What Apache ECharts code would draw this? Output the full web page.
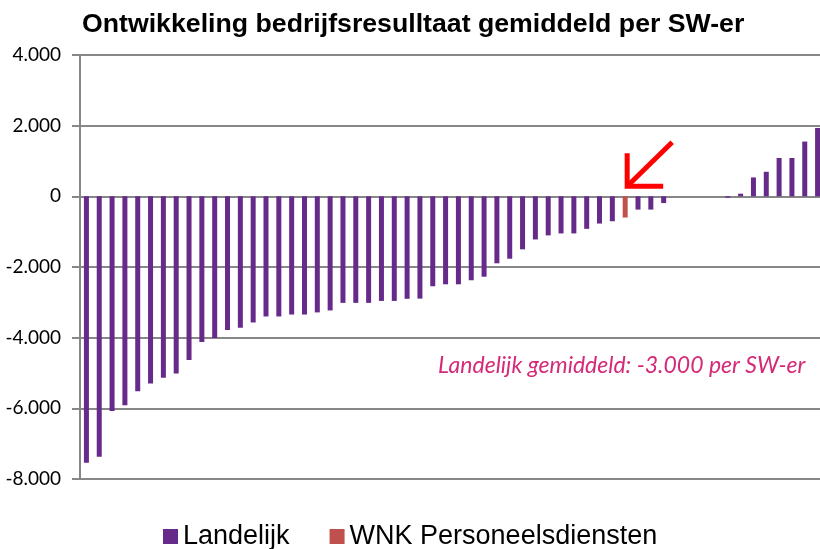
<!DOCTYPE html>
<html>
<head>
<meta charset="utf-8">
<script src="https://cdn.jsdelivr.net/npm/echarts@6/dist/echarts.min.js"></script>
<style>
html,body{margin:0;padding:0;background:#fff;overflow:hidden;}
#c{width:824px;height:549px;}
</style>
</head>
<body>
<div id="c"></div>
<script>
var titleText = 'Ontwikkeling bedrijfsresulltaat gemiddeld per SW-er';
var noteText = 'Landelijk gemiddeld: -3.000 per SW-er';
var seriesNames = ['Landelijk', 'WNK Personeelsdiensten'];
var categories = ['1','2','3','4','5','6','7','8','9','10','11','12','13','14','15','16','17','18','19','20','21','22','23','24','25','26','27','28','29','30','31','32','33','34','35','36','37','38','39','40','41','42','43','44','45','46','47','48','49','50','51','52','53','54','55','56','57','58'];
var landelijk = [-7540,-7370,-6075,-5915,-5520,-5295,-5135,-5015,-4630,-4120,-4010,-3785,-3720,-3570,
  -3400,-3400,-3345,-3345,-3285,-3230,-3015,-3015,-3015,-2960,-2960,-2900,-2895,-2545,
  -2490,-2490,-2375,-2275,-1895,-1765,-1500,-1220,-1105,-1050,-1050,-920,-770,-705,
  null,-375,-375,-190,null,null,null,null,
  -40,75,535,695,1085,1085,1550,1935];
var wnk = [null,null,null,null,null,null,null,null,null,null,null,null,null,null,
  null,null,null,null,null,null,null,null,null,null,null,null,null,null,
  null,null,null,null,null,null,null,null,null,null,null,null,null,null,
  -600,null,null,null,null,null,null,null,
  null,null,null,null,null,null,null,null];
var wnkIndex = 42;
var yTickValues = [-8000,-6000,-4000,-2000,0,2000,4000];
var yTickLabels = ['-8.000','-6.000','-4.000','-2.000','0','2.000','4.000'];

var chart = echarts.init(document.getElementById('c'), null, {renderer:'canvas'});
var gridColor = '#878787';
chart.setOption({
  animation:false,
  title:{text:titleText,left:82,top:11,padding:0,
    textStyle:{fontFamily:'Liberation Sans',fontSize:26.7,fontWeight:'bold',color:'#000'}},
  legend:{data:seriesNames,left:163,top:523,icon:'rect',itemWidth:15,itemHeight:15,itemGap:40,padding:0,
    textStyle:{fontFamily:'Liberation Sans',fontSize:27,color:'#000'}},
  grid:{left:80,right:0,top:55,bottom:70,containLabel:false},
  xAxis:{type:'category',data:categories,
    axisLine:{show:false},axisTick:{show:false},axisLabel:{show:false},splitLine:{show:false}},
  yAxis:{type:'value',min:-8000,max:4000,interval:2000,
    axisLine:{show:true,lineStyle:{color:gridColor,width:2}},
    axisTick:{show:true,length:8,inside:false,lineStyle:{color:gridColor,width:2}},
    axisLabel:{margin:19,fontFamily:'Lato',fontSize:19,color:'#000',
      formatter:function(v){var i=yTickValues.indexOf(v);return i>=0?yTickLabels[i]:'';}},
    splitLine:{show:true,lineStyle:{color:gridColor,width:2}}},
  series:[
    {name:seriesNames[0],type:'bar',data:landelijk,barWidth:5,itemStyle:{color:'#662A8A'},barGap:'-100%'},
    {name:seriesNames[1],type:'bar',data:wnk,barWidth:5,itemStyle:{color:'#C0504D'},barGap:'-100%'}
  ]
});

var p = chart.convertToPixel({seriesIndex:1},[wnkIndex,0]);
var cx = p[0]+2, cy = p[1]-10;
chart.setOption({
  graphic:[
    {type:'text',left:438,top:354,style:{text:noteText,fill:'#D42A78',
      font:'italic 23px Lato',textAlign:'left'}},
    {type:'polyline',shape:{points:[[cx+45,cy-44],[cx,cy]]},style:{stroke:'#FF0000',lineWidth:5,fill:null}},
    {type:'polyline',shape:{points:[[cx,cy-33],[cx,cy],[cx+36,cy]]},style:{stroke:'#FF0000',lineWidth:5,fill:null,lineJoin:'miter'}}
  ]
});
</script>
</body>
</html>
